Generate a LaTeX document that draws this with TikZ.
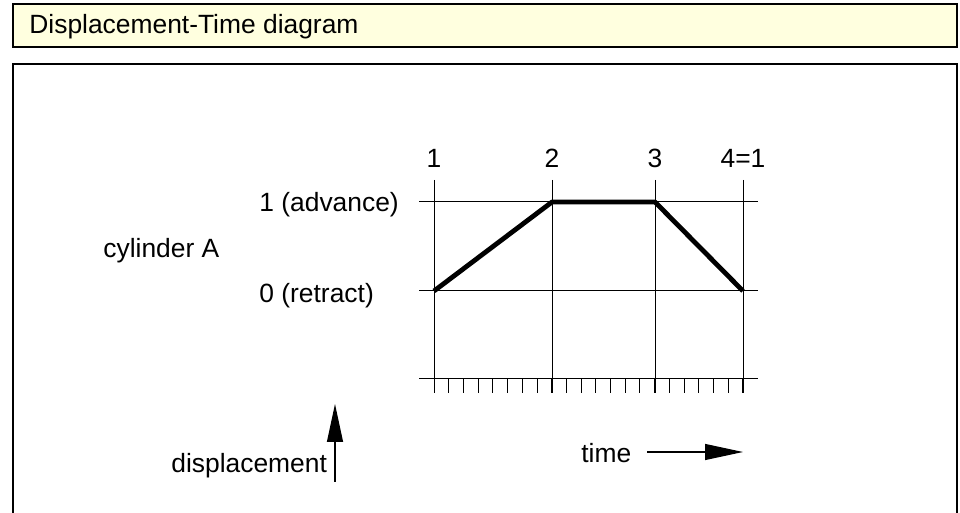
\documentclass[tikz,border=0pt]{standalone}
\usepackage{fontspec}
\setmainfont{Liberation Sans}
\definecolor{headeryellow}{RGB}{255,255,223}
\usetikzlibrary{arrows.meta,positioning}

\begin{document}
\begin{tikzpicture}[x=0.5pt,y=-0.5pt,
    txt/.style={font=\fontsize{13.2}{15}\selectfont, inner sep=0pt},
    thinline/.style={line width=0.5pt},
    bigarrow/.style={line width=0.6pt, -{Triangle[length=19pt,width=8pt]}}]
\useasboundingbox (0,0) rectangle (960,513);
% header bar
\draw[line width=1.1pt, fill=headeryellow] (13,4) rectangle (957,47);
\node[txt, anchor=base west] (title) at (29,34) {Displacement-Time diagram};
% frame, open below the page edge
\draw[line width=1.1pt] (13,530) -- (13,64) -- (957,64) -- (957,530);

% grid: steps and levels
\foreach \s/\x/\lbl in {1/434/1, 2/552/2, 3/655/3, 4/743/{4=1}} {
    \coordinate (top\s) at (\x,180);
    \coordinate (bot\s) at (\x,393);
    \draw[thinline] (top\s) -- (bot\s);
    \node[txt, anchor=base] (step\s) at (\x,168) {\lbl};
}
\draw[thinline] (419,202) -- (758,202);
\draw[thinline] (419,291) -- (758,291);
\draw[thinline] (419,379) -- (758,379);
\foreach \i in {0,...,21}
    \draw[thinline] ({434+\i*14.714},379) -- ++(0,14);

% level labels
\node[txt, anchor=base west] (advance) at (259,212) {1 (advance)};
\node[txt, anchor=base west] (retract) at (259,303) {0 (retract)};
\node[txt, anchor=base west] (cylA) at (103,258) {cylinder A};

% motion of cylinder A
\coordinate (p1) at (434,291);
\coordinate (p2) at (552,202);
\coordinate (p3) at (655,202);
\coordinate (p4) at (743,291);
\draw[line width=2.4pt, line join=round] (p1) -- (p2) -- (p3) -- (p4);

% axis arrows
\node[txt, anchor=base west] (disp) at (171,473) {displacement};
\coordinate (dispfoot) at (335,482);
\coordinate (disptip) at (335,404);
\draw[bigarrow] (dispfoot) -- (disptip);
\node[txt, anchor=base west] (time) at (581,463) {time};
\coordinate (timefoot) at (647,452);
\coordinate (timetip) at (743,452);
\draw[bigarrow] (timefoot) -- (timetip);
\end{tikzpicture}
\end{document}
